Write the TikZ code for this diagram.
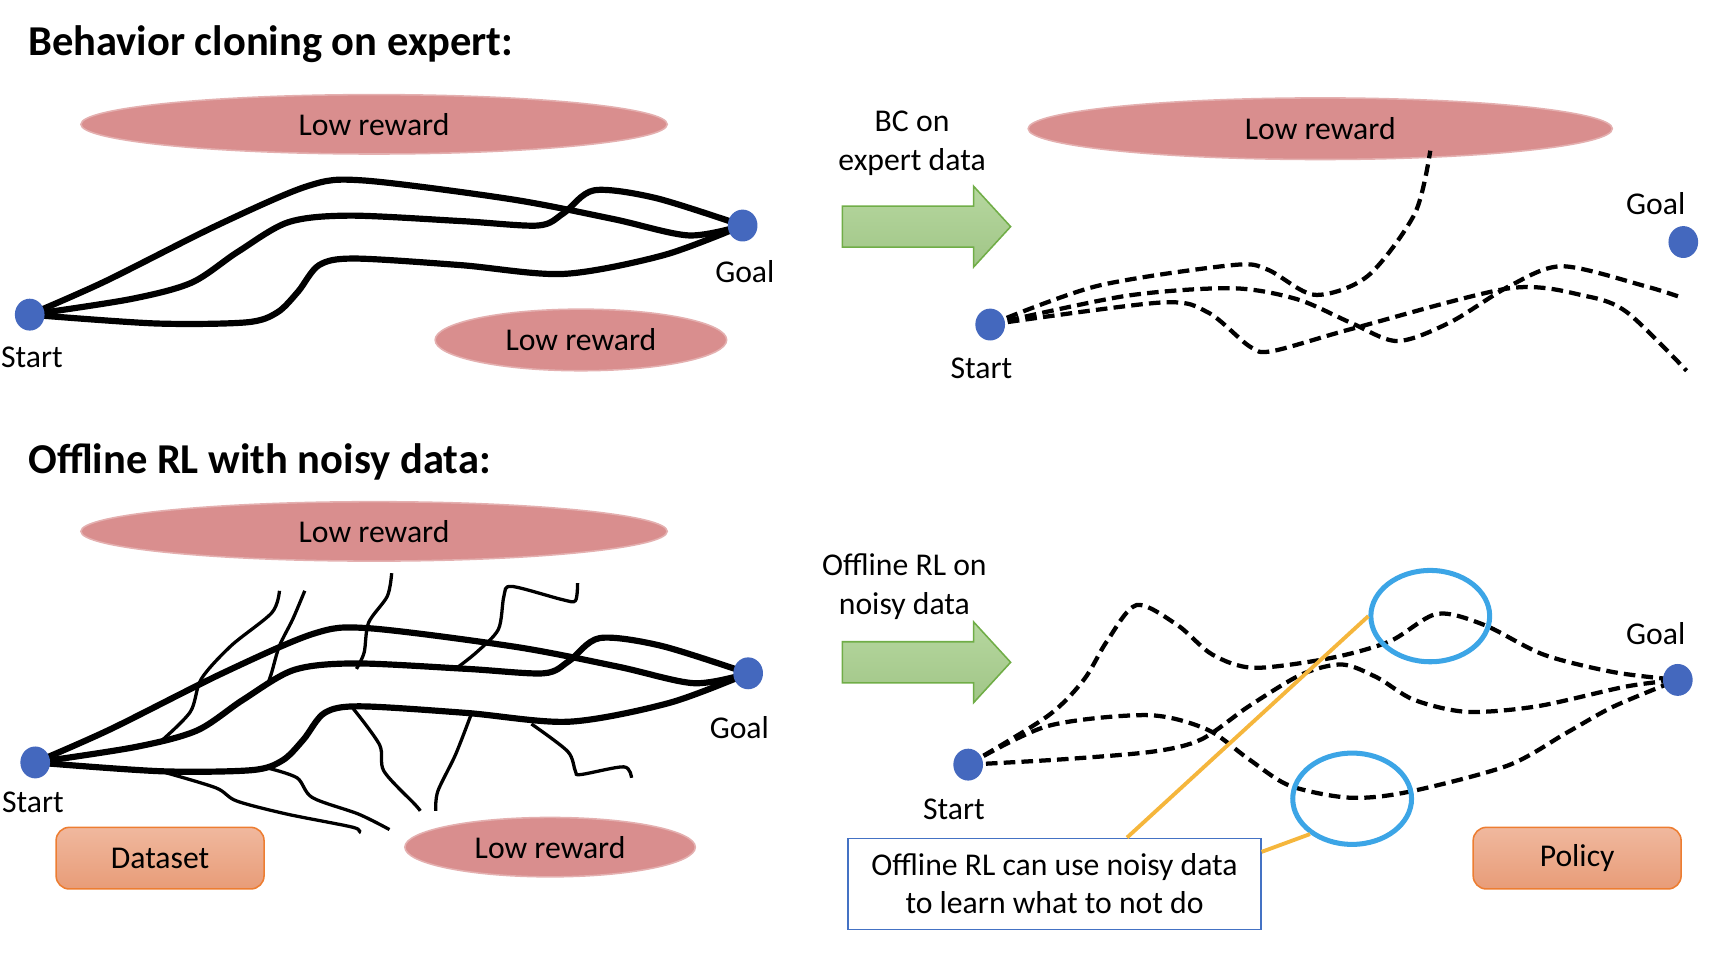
\documentclass[tikz,border=0pt]{standalone}
\usepackage{fontspec}
\setmainfont{Carlito}
\usepackage{tikz}
\usetikzlibrary{shapes.geometric}
\usetikzlibrary{shapes.arrows}
\usetikzlibrary{calc}

\definecolor{lowred}{RGB}{217,142,142}
\definecolor{dotblue}{RGB}{68,104,190}
\definecolor{arrowgreen}{RGB}{169,208,142}
\definecolor{arrowedge}{RGB}{112,173,71}
\definecolor{boxtop}{RGB}{240,184,158}
\definecolor{boxbot}{RGB}{232,156,120}
\definecolor{boxedge}{RGB}{237,125,49}
\definecolor{ringblue}{RGB}{60,165,230}
\definecolor{noteedge}{RGB}{68,114,196}
\definecolor{callorange}{RGB}{245,182,60}

\tikzset{
  reward/.style={ellipse, fill=lowred, draw=lowred!70!white, thin, inner sep=0pt, font=\fontsize{8.2}{10}\selectfont},
  statedot/.style={ellipse, fill=dotblue, inner sep=0pt, minimum width=2.7mm, minimum height=2.9mm},
  lbl/.style={font=\fontsize{8.2}{10}\selectfont, align=center},
  heading/.style={font=\fontsize{11}{13}\selectfont\bfseries, anchor=west, inner sep=0pt},
  expert/.style={line width=1.6pt},
  branch/.style={line width=0.85pt},
  rollout/.style={line width=1.1pt, dash pattern=on 3pt off 1.6pt},
  bigarrow/.style={single arrow, top color=arrowgreen!85!white, bottom color=arrowgreen!95!black, draw=arrowedge, thin, inner xsep=0pt, inner ysep=1.8mm, minimum height=15.3mm, single arrow head extend=1.8mm, single arrow tip angle=95},
  setbox/.style={rounded corners=1.2mm, top color=boxtop, bottom color=boxbot, draw=boxedge, thin, minimum width=18.9mm, minimum height=5.6mm, font=\fontsize{8.2}{10}\selectfont},
  circlemark/.style={ellipse, draw=ringblue, line width=1.3pt, minimum width=10.8mm, minimum height=8.3mm, inner sep=0pt},
  callline/.style={draw=callorange, line width=1pt},
  notebox/.style={draw=noteedge, fill=white, thin, minimum width=37.5mm, minimum height=8.3mm, align=center, font=\fontsize{8.2}{9.8}\selectfont}
}

\begin{document}
\begin{tikzpicture}[x=0.1mm, y=-0.1mm]
  \useasboundingbox (0,0) rectangle (1567,869);

  \node[heading] (t1) at (25,40) {Behavior cloning on expert:};
  \node[reward, minimum width=53.3mm, minimum height=5.4mm] (lr1) at (340,113) {Low reward};
  \node[reward, minimum width=26.5mm, minimum height=5.6mm] (lr2) at (528,309) {Low reward};
  \coordinate (s1) at (27,286);
  \coordinate (g1) at (675,205);
  \node[lbl] at (29,325) {Start};
  \node[lbl] at (677,247) {Goal};
  \draw[expert] plot[smooth] coordinates {(s1) (95,256) (197,205) (280,169) (330,164) (464,181) (557,199) (626,214) (g1)};
  \draw[expert] plot[smooth] coordinates {(s1) (118,272) (174,257) (216,229) (262,202) (318,196) (420,201) (489,205) (512,194) (540,173) (596,180) (g1)};
  \draw[expert] plot[smooth] coordinates {(s1) (141,294) (224,293) (252,284) (271,265) (290,241) (322,235) (419,241) (512,249) (603,232) (g1)};
  \node[statedot] (start1) at (s1) {};
  \node[statedot] (goal1) at (g1) {};

  \node[lbl] (bc) at (829,130) {BC on\\expert data};
  \node[bigarrow] (a1) at (833.5,206) {};
  \node[reward, minimum width=53.1mm, minimum height=5.6mm] (lr3) at (1200,117) {Low reward};
  \coordinate (s2) at (900,295);
  \node[lbl] at (892,335) {Start};
  \node[lbl] at (1505,185) {Goal};
  \draw[rollout] plot[smooth] coordinates {(s2) (997,260) (1120,241) (1152,245) (1195,268) (1243,251) (1286,194) (1300,137)};
  \draw[rollout] plot[smooth] coordinates {(s2) (1023,269) (1120,262) (1179,272) (1227,293) (1270,310) (1318,293) (1372,260) (1420,242) (1495,260) (1530,271)};
  \draw[rollout] plot[smooth] coordinates {(s2) (1055,275) (1098,284) (1136,315) (1157,319) (1232,298) (1372,262) (1441,269) (1479,284) (1533,337)};
  \node[statedot] (start2) at (s2) {};
  \node[statedot] (goal2) at (1530,220) {};

  \node[heading] (t2) at (25,420) {Offline RL with noisy data:};
  \node[reward, minimum width=53.3mm, minimum height=5.4mm] (lr4) at (340,483) {Low reward};
  \node[reward, minimum width=26.4mm, minimum height=5.4mm] (lr5) at (500,770) {Low reward};
  \node[setbox] (data) at (145.5,780) {Dataset};
  \begin{scope}[shift={(5,407)}]
    \coordinate (s3) at (27,286);
    \coordinate (g3) at (675,205);
    \draw[expert] plot[smooth] coordinates {(s3) (95,256) (197,205) (280,169) (330,164) (464,181) (557,199) (626,214) (g3)};
    \draw[expert] plot[smooth] coordinates {(s3) (118,272) (174,257) (216,229) (262,202) (318,196) (420,201) (489,205) (512,194) (540,173) (596,180) (g3)};
    \draw[expert] plot[smooth] coordinates {(s3) (141,294) (224,293) (252,284) (271,265) (290,241) (322,235) (419,241) (512,249) (603,232) (g3)};
  \end{scope}
  \node[lbl] at (30,729) {Start};
  \node[lbl] at (672,661) {Goal};
  \draw[branch] plot[smooth] coordinates {(254,537) (247,557) (210,587) (183,617) (173,647) (146,674)};
  \draw[branch] plot[smooth] coordinates {(277,537) (266,563) (254,587) (247,611) (243,623)};
  \draw[branch] plot[smooth] coordinates {(356,521) (352,542) (335,566) (331,593) (324,608)};
  \draw[branch] plot[smooth] coordinates {(525,530) (523,546) (511,545) (465,533) (458,542) (453,572) (433,593) (414,608)};
  \draw[branch] plot[smooth] coordinates {(321,644) (345,677) (349,701) (377,731) (382,737)};
  \draw[branch] plot[smooth] coordinates {(428,650) (414,686) (398,719) (396,737)};
  \draw[branch] plot[smooth] coordinates {(483,658) (516,683) (523,701) (528,704) (567,697) (574,707)};
  \draw[branch] plot[smooth] coordinates {(243,698) (270,707) (284,725) (326,740) (354,754)};
  \draw[branch] plot[smooth] coordinates {(146,701) (196,716) (215,728) (261,740) (321,752) (326,757)};
  \node[statedot] (start3) at (s3) {};
  \node[statedot] (goal3) at (g3) {};

  \node[lbl] (orl) at (822,533) {Offline RL on\\noisy data};
  \node[bigarrow] (a2) at (833.5,602) {};
  \coordinate (s4) at (880,695);
  \coordinate (g4) at (1525,618);
  \node[lbl] at (867,736) {Start};
  \node[lbl] at (1505,576) {Goal};
  \node[setbox] (policy) at (1433.5,780) {Policy};
  \draw[rollout] plot[smooth] coordinates {(s4) (952,651) (985,618) (1006,583) (1033,550) (1070,568) (1102,595) (1140,607) (1210,598) (1263,583) (1306,558) (1349,568) (1403,595) (1467,611) (g4)};
  \draw[rollout] plot[smooth] coordinates {(s4) (968,690) (1049,683) (1092,672) (1135,642) (1183,613) (1220,604) (1252,616) (1285,636) (1333,647) (1397,642) (1478,624) (g4)};
  \draw[rollout] plot[smooth] coordinates {(s4) (952,660) (1043,650) (1097,663) (1135,690) (1172,714) (1226,725) (1279,720) (1370,696) (1424,666) (1467,642) (g4)};
  \node[statedot] (start4) at (s4) {};
  \node[statedot] (goal4) at (g4) {};
  \node[circlemark] (c1) at (1300,560) {};
  \node[circlemark] (c2) at (1229,726) {};
  \node[notebox] (note) at (958.5,803.5) {Offline RL can use noisy data\\to learn what to not do};
  \draw[callline] ($(note.north west)!0.675!(note.north east)$) -- (c1.west);
  \draw[callline] ($(note.north east)+(0,13)$) -- (c2.220);
\end{tikzpicture}
\end{document}
